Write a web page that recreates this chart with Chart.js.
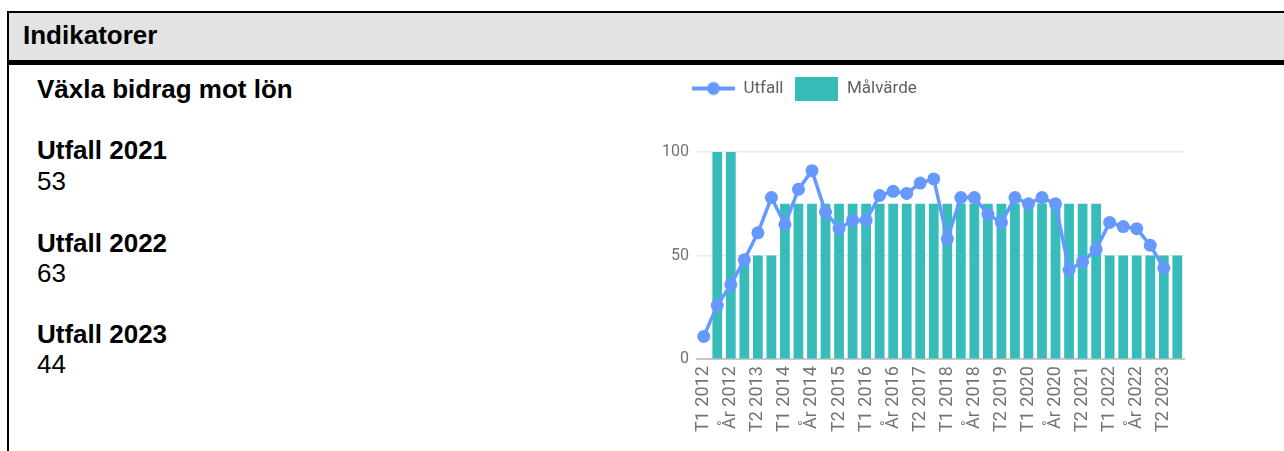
<!DOCTYPE html>
<html>
<head>
<meta charset="utf-8">
<script src="https://cdn.jsdelivr.net/npm/chart.js@4"></script>
<style>
  html, body { margin: 0; padding: 0; background: #fff; overflow: hidden; }
  body { width: 1284px; height: 451px; position: relative; font-family: "Liberation Sans", Arial, sans-serif; color: #000; }
  #box { position: absolute; left: 7px; top: 11px; width: 1300px; height: 460px; border-left: 2px solid #000; border-top: 2px solid #000; }
  #hdr { position: absolute; left: 0; top: 0; width: 100%; height: 47px; background: #e3e3e3; border-bottom: 5px solid #000; }
  .t { position: absolute; font-size: 26px; line-height: 26px; white-space: nowrap; }
  .b { font-weight: bold; }
  #wrap { position: absolute; left: 640px; top: 68px; width: 566px; height: 383px; }
</style>
</head>
<body>
<div id="box"><div id="hdr"></div></div>
<div class="t b" style="left:23px;top:22px;">Indikatorer</div>
<div class="t b" style="left:37px;top:76px;">Växla bidrag mot lön</div>
<div class="t b" style="left:37px;top:137px;">Utfall 2021</div>
<div class="t" style="left:37px;top:168px;">53</div>
<div class="t b" style="left:37px;top:230px;">Utfall 2022</div>
<div class="t" style="left:37px;top:260px;">63</div>
<div class="t b" style="left:37px;top:321px;">Utfall 2023</div>
<div class="t" style="left:37px;top:351px;">44</div>
<div id="wrap"><canvas id="c"></canvas></div>
<script>
const categories = [
  "T1 2012","T2 2012","År 2012",
  "T1 2013","T2 2013","År 2013",
  "T1 2014","T2 2014","År 2014",
  "T1 2015","T2 2015","År 2015",
  "T1 2016","T2 2016","År 2016",
  "T1 2017","T2 2017","År 2017",
  "T1 2018","T2 2018","År 2018",
  "T1 2019","T2 2019","År 2019",
  "T1 2020","T2 2020","År 2020",
  "T1 2021","T2 2021","År 2021",
  "T1 2022","T2 2022","År 2022",
  "T1 2023","T2 2023","År 2023"
];
const utfall = [11,26,36,48,61,78,65,82,91,71,63,67,67,79,81,80,85,87,58,78,78,70,66,78,75,78,75,43,47,53,66,64,63,55,44,null];
const malvarde = [null,100,100,50,50,50,75,75,75,75,75,75,75,75,75,75,75,75,75,75,75,75,75,75,75,75,75,75,75,75,50,50,50,50,50,50];
const yTicks = [0, 50, 100];
const seriesNames = ["Utfall", "Målvärde"];

const lineColor = "#6699ff";
const barColor = "#37bcb9";

function lineIcon() {
  const c = document.createElement("canvas");
  c.width = 43; c.height = 24;
  const x = c.getContext("2d");
  x.strokeStyle = lineColor; x.lineWidth = 4;
  x.beginPath(); x.moveTo(0, 12); x.lineTo(43, 12); x.stroke();
  x.fillStyle = lineColor;
  x.beginPath(); x.arc(21.5, 12, 6.5, 0, Math.PI * 2); x.fill();
  return c;
}
function boxIcon() {
  const c = document.createElement("canvas");
  c.width = 43; c.height = 24;
  const x = c.getContext("2d");
  x.fillStyle = barColor; x.fillRect(0, 0, 43, 24);
  return c;
}
const icons = [lineIcon(), boxIcon()];

const legendLayout = {
  id: "legendLayout",
  beforeInit(chart) {
    const fit = chart.legend.fit;
    chart.legend.fit = function () {
      fit.bind(chart.legend)();
      this.height += 45;
    };
  },
  afterLayout(chart) {
    chart.legend.left = chart.chartArea.left - 17;
  }
};

Chart.defaults.font.family = "Roboto";

new Chart(document.getElementById("c"), {
  data: {
    labels: categories,
    datasets: [
      {
        type: "line",
        label: seriesNames[0],
        data: utfall,
        order: 0,
        borderColor: lineColor,
        backgroundColor: lineColor,
        borderWidth: 3.5,
        pointRadius: 6.5,
        pointHoverRadius: 6.5,
        pointBorderWidth: 0,
        pointBackgroundColor: lineColor,
        tension: 0
      },
      {
        type: "bar",
        label: seriesNames[1],
        data: malvarde,
        order: 1,
        backgroundColor: barColor,
        borderWidth: 0,
        categoryPercentage: 0.8,
        barPercentage: 0.9
      }
    ]
  },
  options: {
    responsive: true,
    maintainAspectRatio: false,
    animation: false,
    layout: { padding: { left: 14, right: 0, top: 0, bottom: 12 } },
    plugins: {
      tooltip: { enabled: false },
      legend: {
        position: "top",
        align: "start",
        labels: {
          usePointStyle: true,
          pointStyleWidth: 43,
          padding: 12,
          color: "#616161",
          font: { size: 17 },
          generateLabels(chart) {
            return seriesNames.map((n, i) => ({
              text: n,
              pointStyle: icons[i],
              fillStyle: i === 0 ? lineColor : barColor,
              strokeStyle: i === 0 ? lineColor : barColor,
              lineWidth: 0,
              hidden: false,
              datasetIndex: i,
              fontColor: "#616161"
            }));
          }
        }
      }
    },
    scales: {
      x: {
        grid: { display: false, drawTicks: false },
        border: { display: true, color: "#c8c8c8", width: 2 },
        ticks: {
          autoSkip: false,
          maxRotation: 90,
          minRotation: 90,
          padding: 7,
          color: "#737373",
          font: { size: 18 },
          callback(v, i) { return i % 2 === 0 ? categories[i] : ""; }
        }
      },
      y: {
        min: 0,
        max: 100,
        afterBuildTicks(scale) { scale.ticks = yTicks.map(v => ({ value: v })); },
        grid: {
          drawTicks: false,
          color: (ctx) => (ctx.tick && ctx.tick.value === 0 ? "rgba(0,0,0,0)" : "#e6ebf0"),
          lineWidth: 1.5
        },
        border: { display: false },
        ticks: { padding: 8, color: "#737373", font: { size: 16 } }
      }
    }
  },
  plugins: [legendLayout]
});
</script>
</body>
</html>
